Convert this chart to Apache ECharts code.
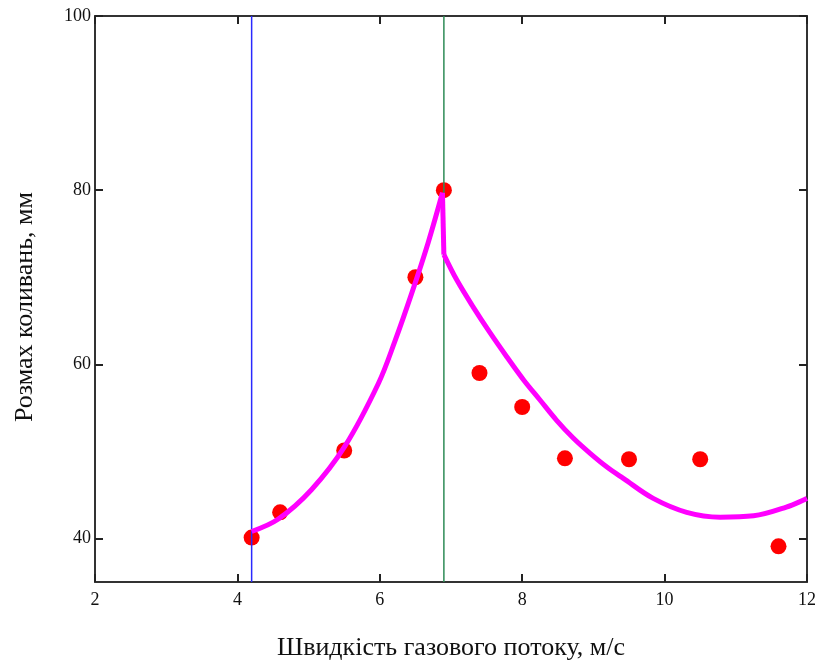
<!DOCTYPE html>
<html>
<head>
<meta charset="utf-8">
<script src="https://cdn.jsdelivr.net/npm/echarts@6/dist/echarts.min.js"></script>
<style>
  html, body { margin: 0; padding: 0; background: #fff; }
  #chart { width: 821px; height: 662px; }
</style>
</head>
<body>
<div id="chart"></div>
<script>
// експериментальні точки
const expX = [4.2, 4.6, 5.5, 6.5, 6.9, 7.4, 8.0, 8.6, 9.5, 10.5, 11.6]
const expY = [40.1, 43.0, 50.1, 70.0, 80.0, 59.0, 55.1, 49.2, 49.1, 49.1, 39.1]

// апроксимація: зростання до піку
const riseX = [4.2, 4.57, 5.04, 5.51, 5.98, 6.21, 6.45, 6.68, 6.88]
const riseY = [40.8, 42.2, 45.6, 50.6, 57.8, 62.6, 68.2, 74.0, 79.7]
// стрибок на піку
const dropX = [6.88, 6.9]
const dropY = [79.7, 72.6]
// спадання після піку
const fallX = [6.9, 7.08, 7.31, 7.55, 7.78, 8.02, 8.25, 8.48, 8.72, 8.95, 9.19, 9.42, 9.84, 10.31, 10.78, 11.25, 11.71, 12.0]
const fallY = [72.6, 69.7, 66.6, 63.6, 60.9, 58.2, 55.9, 53.6, 51.5, 49.8, 48.2, 46.9, 44.6, 43.0, 42.45, 42.6, 43.6, 44.6]

// вертикальні межі
const blueLineX = 4.2
const greenLineX = 6.9

const yTicks = [40, 60, 80, 100]
const yMin = 35
const yMax = 100

const font = 'Liberation Serif'
const zip = (xs, ys) => xs.map((x, i) => [x, ys[i]])

const chart = echarts.init(document.getElementById('chart'))

const axisLine = { show: true, onZero: false, lineStyle: { color: '#333', width: 2 } }
const tick = { show: true, inside: true, length: 8, lineStyle: { color: '#222', width: 2 } }
const curveStyle = { color: '#ff00ff', width: 5 }

const option = {
  animation: false,
  backgroundColor: '#fff',
  grid: { left: 95, top: 16, right: 14, bottom: 80 },
  xAxis: [
    {
      type: 'value', min: 2, max: 12, interval: 2, position: 'bottom',
      axisLine, axisTick: tick, splitLine: { show: false },
      axisLabel: { margin: 9, color: '#111', fontFamily: font, fontSize: 18 }
    },
    {
      type: 'value', min: 2, max: 12, interval: 2, position: 'top',
      axisLine, axisTick: tick, splitLine: { show: false },
      axisLabel: { show: false }
    }
  ],
  yAxis: [
    {
      type: 'value', min: yMin, max: yMax, position: 'left',
      axisLine, splitLine: { show: false },
      axisTick: Object.assign({ customValues: yTicks }, tick),
      axisLabel: { customValues: yTicks, margin: 4, color: '#111', fontFamily: font, fontSize: 18 }
    },
    {
      type: 'value', min: yMin, max: yMax, position: 'right',
      axisLine, splitLine: { show: false },
      axisTick: Object.assign({ customValues: yTicks }, tick),
      axisLabel: { show: false }
    }
  ],
  // підписи осей
  graphic: [
    {
      type: 'text', x: 451, y: 648,
      style: { text: 'Швидкість газового потоку, м/с', font: '26px "Liberation Serif"', fill: '#111', align: 'center', verticalAlign: 'middle' }
    },
    {
      type: 'text', x: 25, y: 307, rotation: Math.PI / 2,
      style: { text: 'Розмах коливань, мм', font: '26px "Liberation Serif"', fill: '#111', align: 'center', verticalAlign: 'middle' }
    }
  ],
  series: [
    {
      type: 'scatter',
      data: zip(expX, expY),
      symbol: 'circle',
      symbolSize: 16,
      itemStyle: { color: '#ff0000', opacity: 1 },
      z: 2
    },
    {
      type: 'line',
      data: [[blueLineX, yMin], [blueLineX, yMax]],
      showSymbol: false,
      lineStyle: { color: '#2a2aff', width: 1.5 },
      z: 3
    },
    {
      type: 'line',
      data: [[greenLineX, yMin], [greenLineX, yMax]],
      showSymbol: false,
      lineStyle: { color: '#2e8b57', width: 1.5 },
      z: 3
    },
    { type: 'line', data: zip(riseX, riseY), smooth: 0.35, showSymbol: false, lineStyle: curveStyle, z: 4 },
    { type: 'line', data: zip(dropX, dropY), showSymbol: false, lineStyle: curveStyle, z: 4 },
    { type: 'line', data: zip(fallX, fallY), smooth: 0.35, showSymbol: false, lineStyle: curveStyle, z: 4 }
  ]
}

chart.setOption(option)
</script>
</body>
</html>
